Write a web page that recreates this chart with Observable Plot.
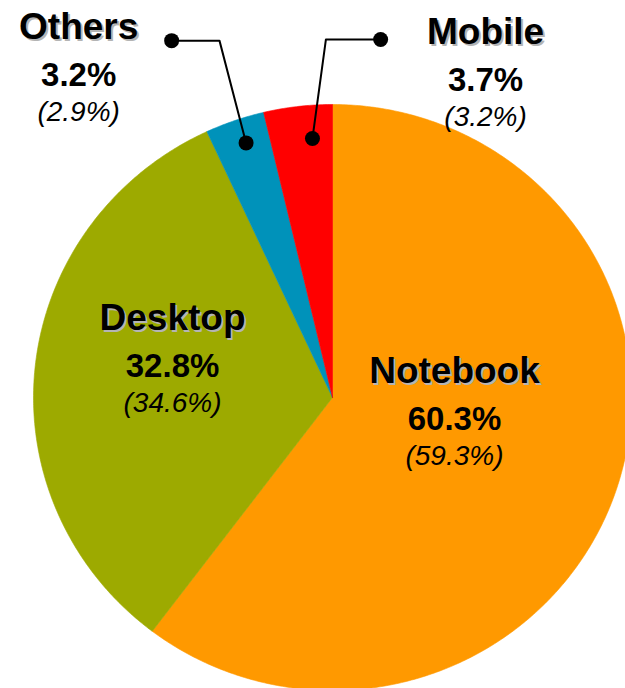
<!DOCTYPE html>
<html><head><meta charset="utf-8">
<script src="https://cdn.jsdelivr.net/npm/d3@7"></script>
<script src="https://cdn.jsdelivr.net/npm/@observablehq/plot@0.6"></script>
<style>
html,body{margin:0;padding:0;overflow:hidden;background:#fff}
#chart svg{display:block;overflow:hidden}
#chart .name-label text{text-shadow:2px 2px 0 #b4b4b4}
</style>
</head><body><div id="chart"></div>
<script>
// ---- data ----
const categories = ["Notebook", "Desktop", "Others", "Mobile"];
const shares = [60.3, 32.8, 3.2, 3.7];          // current share (%)
const previousShares = [59.3, 34.6, 2.9, 3.2];  // previous share (%), shown in italics
const colors = ["#FF9900", "#9DAA00", "#0092BA", "#FF0000"];

// ---- layout (label anchors, in pie-radius units; y up) ----
const labelAnchors = [
  {cat: "Notebook", x: 0.408, y: 0.048},
  {cat: "Desktop", x: -0.535, y: 0.229},
  {cat: "Others", x: -0.849, y: 1.225},
  {cat: "Mobile", x: 0.512, y: 1.208}
];
const leaders = [
  {cat: "Others", pts: [[-0.289, 0.869], [-0.378, 1.218], [-0.538, 1.218]]},
  {cat: "Mobile", pts: [[-0.067, 0.884], [-0.022, 1.222], [0.161, 1.222]]}
];

// ---- build slice polygons from the shares ----
const total = d3.sum(shares);
const slices = [];
let acc = 0;
categories.forEach((cat, i) => {
  const a0 = acc / total * 2 * Math.PI;
  acc += shares[i];
  const a1 = acc / total * 2 * Math.PI;
  slices.push({cat, x: 0, y: 0});
  const n = Math.max(4, Math.ceil((a1 - a0) / (Math.PI / 360)));
  for (let k = 0; k <= n; k++) {
    const a = a0 + (a1 - a0) * k / n;
    slices.push({cat, x: Math.sin(a), y: Math.cos(a)});
  }
  slices.push({cat, x: 0, y: 0});
});

const labels = labelAnchors.map(d => {
  const i = categories.indexOf(d.cat);
  return {...d, pct: shares[i].toFixed(1) + "%", prev: "(" + previousShares[i].toFixed(1) + "%)"};
});
const leaderPts = leaders.flatMap(l => l.pts.map(([x, y]) => ({cat: l.cat, x, y})));
const leaderDots = leaders.flatMap(l => [l.pts[0], l.pts[l.pts.length - 1]].map(([x, y]) => ({cat: l.cat, x, y})));

const font = "Liberation Sans, Arial, Helvetica, sans-serif";

const chart = Plot.plot({
  width: 625,
  height: 688,
  margin: 0,
  style: {fontFamily: font, background: "#fff"},
  x: {domain: [-1, 1], range: [33, 631], axis: null},
  y: {domain: [-1, 1], range: [690, 104], axis: null},
  color: {domain: categories, range: colors},
  marks: [
    Plot.line(slices, {x: "x", y: "y", z: "cat", fill: "cat", stroke: "cat", strokeWidth: 0.6, curve: "linear-closed"}),
    Plot.line(leaderPts, {x: "x", y: "y", z: "cat", stroke: "#000", strokeWidth: 2}),
    Plot.dot(leaderDots, {x: "x", y: "y", r: 7.5, fill: "#000", stroke: "none"}),
    // category names (light drop shadow via CSS)
    Plot.text(labels, {x: "x", y: "y", text: "cat", lineAnchor: "bottom", fontSize: 37, fontWeight: "bold", fill: "#000", className: "name-label"}),
    Plot.text(labels, {x: "x", y: "y", text: "pct", lineAnchor: "bottom", fontSize: 33, fontWeight: "bold", fill: "#000", dy: 47}),
    Plot.text(labels, {x: "x", y: "y", text: "prev", lineAnchor: "bottom", fontSize: 28, fontStyle: "italic", fill: "#000", dy: 82})
  ]
});
// ensure the shadow class is present even if className is unsupported
d3.select(chart).selectAll("g[aria-label='text']").filter((d, i) => i === 0).classed("name-label", true);
document.getElementById("chart").appendChild(chart);
</script>
</body></html>
